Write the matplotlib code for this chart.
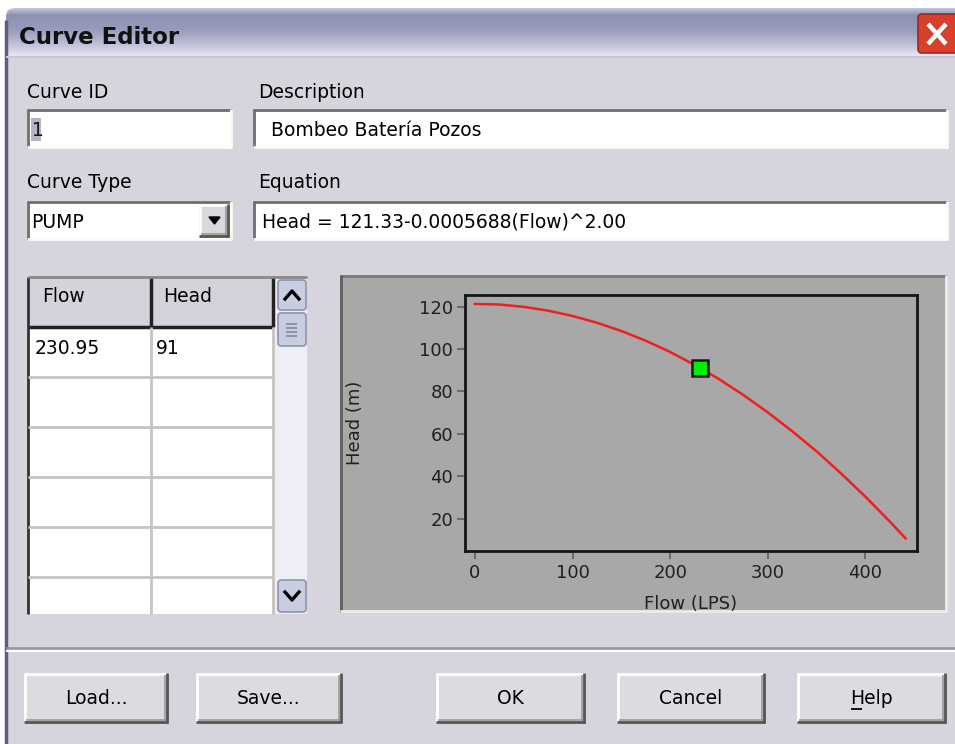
import numpy as np
import matplotlib
matplotlib.use('Agg')
import matplotlib.pyplot as plt
from matplotlib.patches import Rectangle, FancyBboxPatch, Polygon

# ------------------------------------------------------------------
# datos
# ------------------------------------------------------------------
flow_pts = [0, 25, 50, 75, 100, 125, 150, 175, 200, 225, 250, 275,
            300, 325, 350, 375, 400, 425, 441]
head_pts = [121.3, 121.0, 119.9, 118.1, 115.6, 112.4, 108.5, 103.9, 98.6,
            92.5, 85.8, 78.3, 70.1, 61.2, 51.7, 41.3, 30.3, 18.6, 10.7]
op_flow = [230.95]
op_head = [91]
x_ticks = [0, 100, 200, 300, 400]
y_ticks = [20, 40, 60, 80, 100, 120]

curve_id = '1'
description = 'Bombeo Batería Pozos'
curve_type = 'PUMP'
equation = 'Head = 121.33-0.0005688(Flow)^2.00'
table_cols = ['Flow', 'Head']
table_rows = [['230.95', '91']]
buttons = ['Load...', 'Save...', 'OK', 'Cancel', 'Help']

W, H = 955, 744
BODY = '#d6d5dd'
DARK = '#6e6e6e'
LIGHT = '#fbfbf6'
FS = 13.5

fig = plt.figure(figsize=(W / 100, H / 100), dpi=100, facecolor='white')
bg = fig.add_axes([0, 0, 1, 1])
bg.set_xlim(0, W)
bg.set_ylim(H, 0)
bg.axis('off')


def rect(x0, y0, x1, y1, fc, ec='none', lw=0, z=1):
    bg.add_patch(Rectangle((x0, y0), x1 - x0, y1 - y0, facecolor=fc,
                           edgecolor=ec, linewidth=lw, zorder=z))


def line(xs, ys, c, lw=1.5, z=3):
    bg.plot(xs, ys, color=c, lw=lw, zorder=z, solid_capstyle='butt')


def sunken(x0, y0, x1, y1, fc='white'):
    rect(x0, y0, x1, y1, fc)
    line([x0, x1], [y0 + 1, y0 + 1], DARK, 2)
    line([x0 + 1, x0 + 1], [y0, y1], DARK, 2)
    line([x0, x1], [y1 - 1, y1 - 1], LIGHT, 2)
    line([x1 - 1, x1 - 1], [y0, y1], LIGHT, 2)


def raised(x0, y0, x1, y1, fc='#d9d9dd'):
    rect(x0, y0, x1, y1, fc)
    line([x0, x1], [y0 + 1, y0 + 1], 'white', 2)
    line([x0 + 1, x0 + 1], [y0, y1], 'white', 2)
    line([x0, x1], [y1 - 1, y1 - 1], '#555555', 2)
    line([x1 - 1, x1 - 1], [y0, y1], '#555555', 2)
    line([x0 + 2, x1 - 2], [y1 - 3, y1 - 3], '#9a9a9a', 1.2)
    line([x1 - 3, x1 - 3], [y0 + 2, y1 - 2], '#9a9a9a', 1.2)


# cuerpo del diálogo
rect(6, 56, W, H, BODY)
line([6, 6], [20, H], '#5c5e80', 2.5)

# barra de título con degradado
stops_y = [0, 0.15, 0.45, 0.75, 1.0]
stops_c = [(0.80, 0.80, 0.87), (0.56, 0.57, 0.70), (0.60, 0.61, 0.74),
           (0.76, 0.76, 0.85), (0.93, 0.93, 0.96)]
ty = np.linspace(0, 1, 60)
grad = np.stack([np.interp(ty, stops_y, [c[i] for c in stops_c]) for i in range(3)], axis=-1)
grad = grad[:, None, :]
im = bg.imshow(grad, extent=[5, W + 20, 58, 7], aspect='auto', zorder=2,
               interpolation='bilinear')
clip = FancyBboxPatch((6, 8), W + 30, 60, boxstyle='round,pad=0,rounding_size=9',
                      facecolor='none', edgecolor='none', transform=bg.transData)
bg.add_patch(clip)
im.set_clip_path(clip)
bg.set_xlim(0, W)
bg.set_ylim(H, 0)
bg.text(19, 37, 'Curve Editor', fontsize=16.5, fontweight='bold', color='#111111',
        va='center', ha='left', zorder=4)
line([6, W], [57, 57], '#c8c8d4', 1.5, z=4)

# botón cerrar
bg.add_patch(FancyBboxPatch((918, 14), 50, 39, boxstyle='round,pad=0,rounding_size=4',
                            facecolor='#d7402a', edgecolor='#9a2a1e', lw=1.2, zorder=4))
line([928, 946], [24, 44], 'white', 3.2, z=5)
line([928, 946], [44, 24], 'white', 3.2, z=5)

# etiquetas y cajas de texto
bg.text(27, 92, 'Curve ID', fontsize=FS, va='center', ha='left')
bg.text(258, 92, 'Description', fontsize=FS, va='center', ha='left')
sunken(27, 109, 232, 148)
sunken(253, 109, 948, 148)
rect(31, 118, 41, 141, '#b4b4c6', z=4)
bg.text(32, 130, curve_id, fontsize=FS, va='center', ha='left', color='#151515', zorder=5)
bg.text(271, 131, description, fontsize=FS, va='center', ha='left', zorder=5)

bg.text(27, 183, 'Curve Type', fontsize=FS, va='center', ha='left')
bg.text(258, 183, 'Equation', fontsize=FS, va='center', ha='left')
sunken(27, 201, 232, 240)
raised(199, 204, 229, 237)
bg.add_patch(Polygon([[209, 217], [220, 217], [214.5, 224]], closed=True,
                     facecolor='black', edgecolor='black', zorder=5))
bg.text(31, 222, curve_type, fontsize=FS, va='center', ha='left', zorder=5)
sunken(253, 201, 948, 240)
bg.text(262, 222, equation, fontsize=FS, va='center', ha='left', zorder=5)

# tabla
tx0, tcol, tx1, sx1 = 28, 151, 273, 307
ty0, thead, tbot = 277, 327, 614
rect(tx0, ty0, sx1, tbot, 'white', z=1)
rect(tx0, ty0, tx1, thead, '#d4d3db', z=2)
line([tx0, tx1], [thead, thead], '#222222', 2.5)
line([tcol, tcol], [ty0, thead], '#222222', 2.5)
line([tx1, tx1], [ty0, thead], '#222222', 2.5)
line([tx0, tx0], [ty0, tbot], '#333333', 2)
line([tx0, sx1], [ty0, ty0], '#888888', 2)
row_h = 50
for k in range(1, 6):
    yy = thead + k * row_h
    line([tx0, tx1], [yy, yy], '#c4c4c4', 2)
line([tcol, tcol], [thead, tbot], '#c4c4c4', 2)
line([tx1, tx1], [thead, tbot], '#c4c4c4', 2)
bg.text(42, 297, table_cols[0], fontsize=FS, va='center', ha='left', zorder=5)
bg.text(163, 297, table_cols[1], fontsize=FS, va='center', ha='left', zorder=5)
for r, row in enumerate(table_rows):
    yy = thead + row_h * r + 21
    bg.text(35, yy, row[0], fontsize=FS, va='center', ha='left', zorder=5)
    bg.text(156, yy, row[1], fontsize=FS, va='center', ha='left', zorder=5)

# barra de desplazamiento
rect(275, ty0, sx1, tbot, '#eeeff6', z=2)
for (y0, y1) in [(280, 310), (313, 346), (580, 612)]:
    bg.add_patch(FancyBboxPatch((278, y0), 28, y1 - y0,
                                boxstyle='round,pad=0,rounding_size=3',
                                facecolor='#c9cde2', edgecolor='#8f94ad', lw=1.2, zorder=4))
for yy in [324, 328, 332, 336]:
    line([286, 297], [yy, yy], '#7d829c', 1.1, z=5)
bg.plot([285, 292, 299], [299, 291, 299], color='black', lw=2.4, zorder=5)
bg.plot([285, 292, 299], [592, 600, 592], color='black', lw=2.4, zorder=5)

# panel del gráfico
rect(340, 275, 947, 612, '#a8a8a8', z=1)
line([340, 947], [276, 276], '#7a7a7a', 2)
line([341, 341], [275, 612], '#5f5f5f', 2)
line([340, 947], [611, 611], '#ececec', 2)
line([946, 946], [275, 612], '#ececec', 2)

# separador y botones
line([6, W], [648, 648], '#9a9aa6', 2)
line([6, W], [650.5, 650.5], 'white', 1.5)
btn_x = [(24, 168), (196, 342), (436, 585), (617, 765), (797, 946)]
for (x0, x1), lab in zip(btn_x, buttons):
    raised(x0, 673, x1, 723, fc='#dcdce0')
    bg.text((x0 + x1) / 2, 698, lab, fontsize=FS, ha='center', va='center', zorder=5)
line([851, 862], [709, 709], 'black', 1.3, z=6)

# ------------------------------------------------------------------
# gráfico de la curva
# ------------------------------------------------------------------
px0, py0, px1, py1 = 465, 295, 917, 551
ax = fig.add_axes([px0 / W, 1 - py1 / H, (px1 - px0) / W, (py1 - py0) / H])
ax.set_facecolor('#a8a8a8')
ax.plot(flow_pts, head_pts, color='#f01e1e', lw=1.8, zorder=3)
ax.plot(op_flow, op_head, marker='s', ms=12, mfc='#00ee00', mec='#1a1a1a',
        mew=1.8, ls='none', zorder=4)
ax.set_xlim(-10.2, 452.8)
ax.set_ylim(4.7, 125.5)
ax.set_xticks(x_ticks)
ax.set_yticks(y_ticks)
for s in ax.spines.values():
    s.set_linewidth(2)
    s.set_color('#151515')
ax.tick_params(length=6, width=1.4, color='#6a6a6a', labelsize=13,
               labelcolor='#202020', pad=2.5)
ax.tick_params(axis='x', pad=3.5)
ax.set_xlabel('Flow (LPS)', fontsize=13, color='#202020')
ax.set_ylabel('Head (m)', fontsize=13, color='#202020')
ax.xaxis.set_label_coords(0.5, (py1 - 604) / (py1 - py0))
ax.xaxis.label.set_va('center')
ax.yaxis.set_label_coords((355 - px0) / (px1 - px0), 0.5)
ax.yaxis.label.set_va('center')

fig.savefig('out.png', dpi=100, facecolor='white')
